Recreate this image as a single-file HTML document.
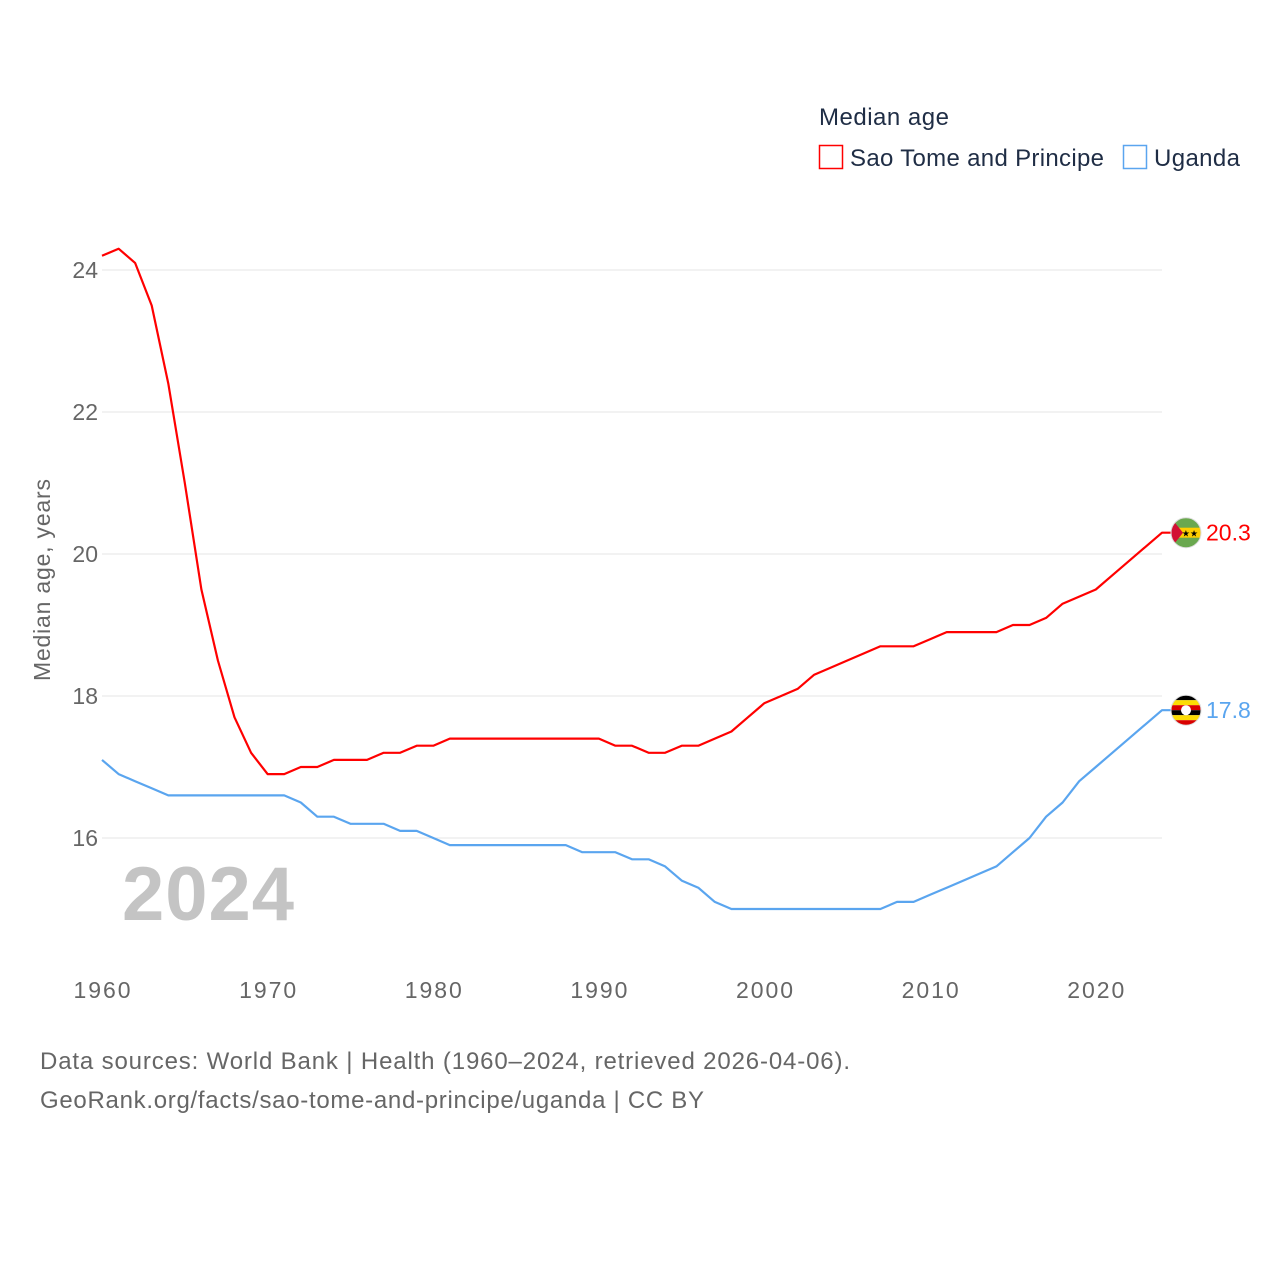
<!DOCTYPE html>
<html><head><meta charset="utf-8"><style>
body{margin:0;background:#fff;font-family:"Liberation Sans",sans-serif}
svg text{font-family:"Liberation Sans",sans-serif}
</style></head><body>
<svg id="chart" width="1280" height="1280" xmlns="http://www.w3.org/2000/svg">
<rect width="1280" height="1280" fill="#fff"/>
<g id="grid"></g>
<g id="yticks"></g>
<g id="xticks"></g>
<text x="50" y="580" transform="rotate(-90 50 580)" text-anchor="middle" font-size="23" fill="#666" textLength="202">Median age, years</text>
<text x="122" y="920" font-size="76" font-weight="bold" fill="#c4c4c4" textLength="172">2024</text>
<g id="series"></g>
<g>
<text x="819" y="125" font-size="24" fill="#1f2d45" textLength="130">Median age</text>
<g><rect x="819.5" y="145.5" width="23" height="23" fill="none" stroke="#ff0000" stroke-width="1.5"/><text x="850" y="166" font-size="24" fill="#1f2d45" textLength="254">Sao Tome and Principe</text></g>
<g><rect x="1123.5" y="145.5" width="23" height="23" fill="none" stroke="#5aa5ef" stroke-width="1.5"/><text x="1154" y="166" font-size="24" fill="#1f2d45" textLength="86">Uganda</text></g>
</g>
<text x="40" y="1069" font-size="24" fill="#666" textLength="810">Data sources: World Bank | Health (1960–2024, retrieved 2026-04-06).</text>
<text x="40" y="1108" font-size="24" fill="#666" textLength="664">GeoRank.org/facts/sao-tome-and-principe/uganda | CC BY</text>
</svg>
<script>
const years=[];for(let y=1960;y<=2024;y++)years.push(y);
const saoTome=[24.2,24.3,24.1,23.5,22.4,21.0,19.5,18.5,17.7,17.2,16.9,16.9,17.0,17.0,17.1,17.1,17.1,17.2,17.2,17.3,17.3,17.4,17.4,17.4,17.4,17.4,17.4,17.4,17.4,17.4,17.4,17.3,17.3,17.2,17.2,17.3,17.3,17.4,17.5,17.7,17.9,18.0,18.1,18.3,18.4,18.5,18.6,18.7,18.7,18.7,18.8,18.9,18.9,18.9,18.9,19.0,19.0,19.1,19.3,19.4,19.5,19.7,19.9,20.1,20.3];
const uganda=[17.1,16.9,16.8,16.7,16.6,16.6,16.6,16.6,16.6,16.6,16.6,16.6,16.5,16.3,16.3,16.2,16.2,16.2,16.1,16.1,16.0,15.9,15.9,15.9,15.9,15.9,15.9,15.9,15.9,15.8,15.8,15.8,15.7,15.7,15.6,15.4,15.3,15.1,15.0,15.0,15.0,15.0,15.0,15.0,15.0,15.0,15.0,15.0,15.1,15.1,15.2,15.3,15.4,15.5,15.6,15.8,16.0,16.3,16.5,16.8,17.0,17.2,17.4,17.6,17.8];
const yTicks=[16,18,20,22,24];
const xTicks=[1960,1970,1980,1990,2000,2010,2020];
const NS="http://www.w3.org/2000/svg";
const X=v=>102+(v-1960)*(1162-102)/64;
const Y=v=>270+(24-v)*71;
function mk(t,a,p){const e=document.createElementNS(NS,t);for(const k in a)e.setAttribute(k,a[k]);p.appendChild(e);return e;}
const grid=document.getElementById('grid'),yt=document.getElementById('yticks'),xt=document.getElementById('xticks'),ser=document.getElementById('series');
yTicks.forEach(v=>{
 const l=mk('line',{x1:102,x2:1162,y1:Y(v),y2:Y(v),stroke:'#e6e6e6','stroke-width':1},grid);
 
 
 const t=mk('text',{x:98,y:Y(v)+8,'text-anchor':'end','font-size':23,fill:'#666'},yt);t.textContent=v;
 
 
});
xTicks.forEach(v=>{
 const t=mk('text',{x:X(v),y:998,'text-anchor':'middle','font-size':23,fill:'#666',textLength:57},xt);t.textContent=v;
 
 
});
function line(vals,color,name,flag){
 let d=vals.map((v,i)=>(i?'L':'M')+X(years[i]).toFixed(1)+','+Y(v).toFixed(1)).join(' ');
 const last=vals[vals.length-1];
 d+=' L1172,'+Y(last).toFixed(1);
 const p=mk('path',{d:d,fill:'none',stroke:color,'stroke-width':2.2,'stroke-linejoin':'round'},ser);
 
 
 const g=mk('g',{},ser);
 
 
 const cy=Y(last),cx=1186;
 const cp=mk('clipPath',{id:'clip-'+name},g);mk('circle',{cx:cx,cy:cy,r:15},cp);
 const gg=mk('g',{'clip-path':'url(#clip-'+name+')'},g);
 flag(gg,cx,cy);
 mk('circle',{cx:cx,cy:cy,r:15,fill:'none',stroke:'#ddd','stroke-width':1},g);
 const t=mk('text',{x:1206,y:cy+8,'font-size':23,fill:color},ser);t.textContent=last.toFixed(1);
 
 
}
line(saoTome,'#ff0000','sao-tome',(g,cx,cy)=>{
 mk('rect',{x:cx-15,y:cy-15,width:30,height:30,fill:'#6aa84f'},g);
 mk('rect',{x:cx-15,y:cy-5,width:30,height:10,fill:'#ffce00'},g);
 mk('path',{d:`M${cx-15},${cy-15} L${cx-3},${cy} L${cx-15},${cy+15}Z`,fill:'#d21034'},g);
 mk('text',{x:cx+4,y:cy+4,'font-size':9,'text-anchor':'middle',fill:'#000'},g).textContent='★★';
});
line(uganda,'#5aa5ef','uganda',(g,cx,cy)=>{
 const cols=['#000','#fcdc04','#d90000','#000','#fcdc04','#d90000'];
 cols.forEach((c,i)=>mk('rect',{x:cx-15,y:cy-15+i*5,width:30,height:5,fill:c},g));
 mk('circle',{cx:cx,cy:cy,r:5,fill:'#fff'},g);
});
</script>
</body></html>
